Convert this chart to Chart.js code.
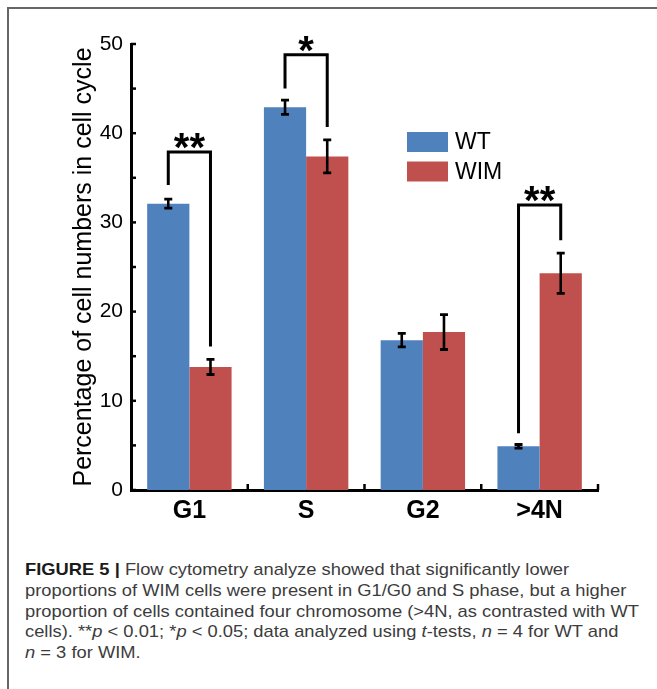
<!DOCTYPE html>
<html><head><meta charset="utf-8">
<script src="https://cdn.jsdelivr.net/npm/chart.js@4/dist/chart.umd.min.js"></script>
<style>
html,body{margin:0;padding:0;background:#fff;width:657px;height:689px;overflow:hidden;position:relative;font-family:"Liberation Sans",Arial,sans-serif;}
#frame{position:absolute;left:7px;top:7px;width:720px;height:720px;border:2px solid #666;box-sizing:border-box;}
#wrap{position:absolute;left:0;top:0;width:657px;height:540px;}
#caption{position:absolute;left:25px;top:560px;font-size:17px;line-height:20.8px;color:#3c3c3c;white-space:nowrap;transform-origin:0 0;}
#caption b{color:#1a1a1a;}
</style></head>
<body>
<div id="frame"></div>
<div id="wrap"><canvas id="c" width="657" height="540"></canvas></div>
<div id="caption">
<div><b>FIGURE 5 |</b> Flow cytometry analyze showed that significantly lower</div>
<div>proportions of WIM cells were present in G1/G0 and S phase, but a higher</div>
<div id="l3">proportion of cells contained four chromosome (&gt;4N, as contrasted with WT</div>
<div>cells). **<i>p</i> &lt; 0.01; *<i>p</i> &lt; 0.05; data analyzed using <i>t</i>-tests, <i>n</i> = 4 for WT and</div>
<div><i>n</i> = 3 for WIM.</div>
</div>
<script>
const categories = ['G1', 'S', 'G2', '>4N'];
const seriesNames = ['WT', 'WIM'];
const wtValues = [32.1, 42.9, 16.8, 4.9];
const wimValues = [13.8, 37.4, 17.7, 24.3];
const wtErrors = [0.5, 0.8, 0.75, 0.2];
const wimErrors = [0.85, 1.85, 1.95, 2.25];
const yMin = 0, yMax = 50, yStep = 5, yLabelStep = 10;
const sigLabels = ['**', '*', '', '**'];
const sigTop = [37.9, 48.8, null, 31.95];
const sigLeftEnd = [34.2, 45.0, null, 6.35];
const sigRightEnd = [16.1, 40.7, null, 28.0];
const seriesColors = ['#4F81BD', '#C0504D'];

const FONT = '"Liberation Sans", Arial, sans-serif';

const overlay = {
  id: 'overlay',
  afterDraw(chart) {
    const ctx = chart.ctx;
    const xs = chart.scales.x, ys = chart.scales.y;
    const ca = chart.chartArea;
    ctx.save();
    ctx.strokeStyle = '#000';
    ctx.fillStyle = '#000';
    ctx.lineCap = 'butt';
    // inward tick marks on y axis
    ctx.lineWidth = 2.5;
    ys.ticks.forEach(t => {
      const py = ys.getPixelForValue(t.value);
      ctx.beginPath(); ctx.moveTo(ca.left, py); ctx.lineTo(ca.left + 5, py); ctx.stroke();
    });
    // upward tick marks at category boundaries
    for (let i = 0; i < categories.length; i++) {
      const next = i + 1 < categories.length ? (xs.getPixelForValue(i) + xs.getPixelForValue(i + 1)) / 2 : ca.right;
      ctx.beginPath(); ctx.moveTo(next, ca.bottom); ctx.lineTo(next, ca.bottom - 6); ctx.stroke();
    }
    // error bars
    const errs = [wtErrors, wimErrors];
    chart.data.datasets.forEach((ds, di) => {
      const meta = chart.getDatasetMeta(di);
      meta.data.forEach((bar, i) => {
        const v = ds.data[i], e = errs[di][i];
        const yt = ys.getPixelForValue(v + e), yb = ys.getPixelForValue(v - e);
        const cx = bar.x;
        ctx.lineWidth = 2.6;
        ctx.beginPath(); ctx.moveTo(cx, yt); ctx.lineTo(cx, yb); ctx.stroke();
        ctx.lineWidth = 2.8;
        ctx.beginPath();
        ctx.moveTo(cx - 4, yt); ctx.lineTo(cx + 4, yt);
        ctx.moveTo(cx - 4, yb); ctx.lineTo(cx + 4, yb);
        ctx.stroke();
      });
    });
    // significance brackets
    const m0 = chart.getDatasetMeta(0), m1 = chart.getDatasetMeta(1);
    ctx.lineWidth = 3;
    ctx.lineJoin = 'miter';
    ctx.font = 'bold 40px ' + FONT;
    ctx.textAlign = 'center';
    ctx.textBaseline = 'alphabetic';
    sigLabels.forEach((lab, i) => {
      if (!lab) return;
      const xl = m0.data[i].x, xr = m1.data[i].x;
      const yt = ys.getPixelForValue(sigTop[i]);
      ctx.beginPath();
      ctx.moveTo(xl, ys.getPixelForValue(sigLeftEnd[i]));
      ctx.lineTo(xl, yt);
      ctx.lineTo(xr, yt);
      ctx.lineTo(xr, ys.getPixelForValue(sigRightEnd[i]));
      ctx.stroke();
      ctx.fillText(lab, (xl + xr) / 2, yt + 9);
    });
    // legend
    ctx.font = '23px ' + FONT;
    ctx.textAlign = 'left';
    ctx.textBaseline = 'middle';
    chart.data.datasets.forEach((ds, di) => {
      const by = 132 + di * 29.5;
      ctx.fillStyle = ds.backgroundColor;
      ctx.fillRect(407, by, 41, 20);
      ctx.fillStyle = '#000';
      ctx.fillText(ds.label, 455, by + 11);
    });
    ctx.restore();
  }
};

new Chart(document.getElementById('c'), {
  type: 'bar',
  data: {
    labels: categories,
    datasets: [
      { label: seriesNames[0], data: wtValues, backgroundColor: seriesColors[0], borderWidth: 0 },
      { label: seriesNames[1], data: wimValues, backgroundColor: seriesColors[1], borderWidth: 0 }
    ]
  },
  options: {
    responsive: false,
    animation: false,
    events: [],
    layout: { padding: { left: 0, right: 59, top: 44, bottom: 10 } },
    plugins: { legend: { display: false }, tooltip: { enabled: false } },
    datasets: { bar: { categoryPercentage: 0.723, barPercentage: 1.0 } },
    scales: {
      x: {
        grid: { display: false, drawTicks: false },
        border: { display: true, color: '#000', width: 3 },
        ticks: { color: '#000', font: { family: FONT, size: 25, weight: 'bold' }, padding: 6 },
        afterFit: s => { s.height = 40; }
      },
      y: {
        min: yMin, max: yMax,
        grid: { display: false, drawTicks: false },
        border: { display: true, color: '#000', width: 3 },
        ticks: {
          stepSize: yStep, color: '#000', padding: 8,
          font: { family: FONT, size: 21 },
          callback: v => (v % yLabelStep === 0 ? String(v) : '')
        },
        title: {
          display: true, text: 'Percentage of cell numbers in cell cycle', color: '#000',
          font: { family: FONT, size: 25 }, padding: { top: 69, bottom: 0 }
        },
        afterFit: s => { s.width = 131; }
      }
    }
  },
  plugins: [overlay]
});

// fit caption width to the reference line length
(function () {
  const l3 = document.getElementById('l3');
  const r = document.createRange(); r.selectNodeContents(l3);
  const w = r.getBoundingClientRect().width;
  const sx = 614 / w;
  document.getElementById('caption').style.transform = 'scaleX(' + sx.toFixed(4) + ')';
})();
</script>
</body></html>
